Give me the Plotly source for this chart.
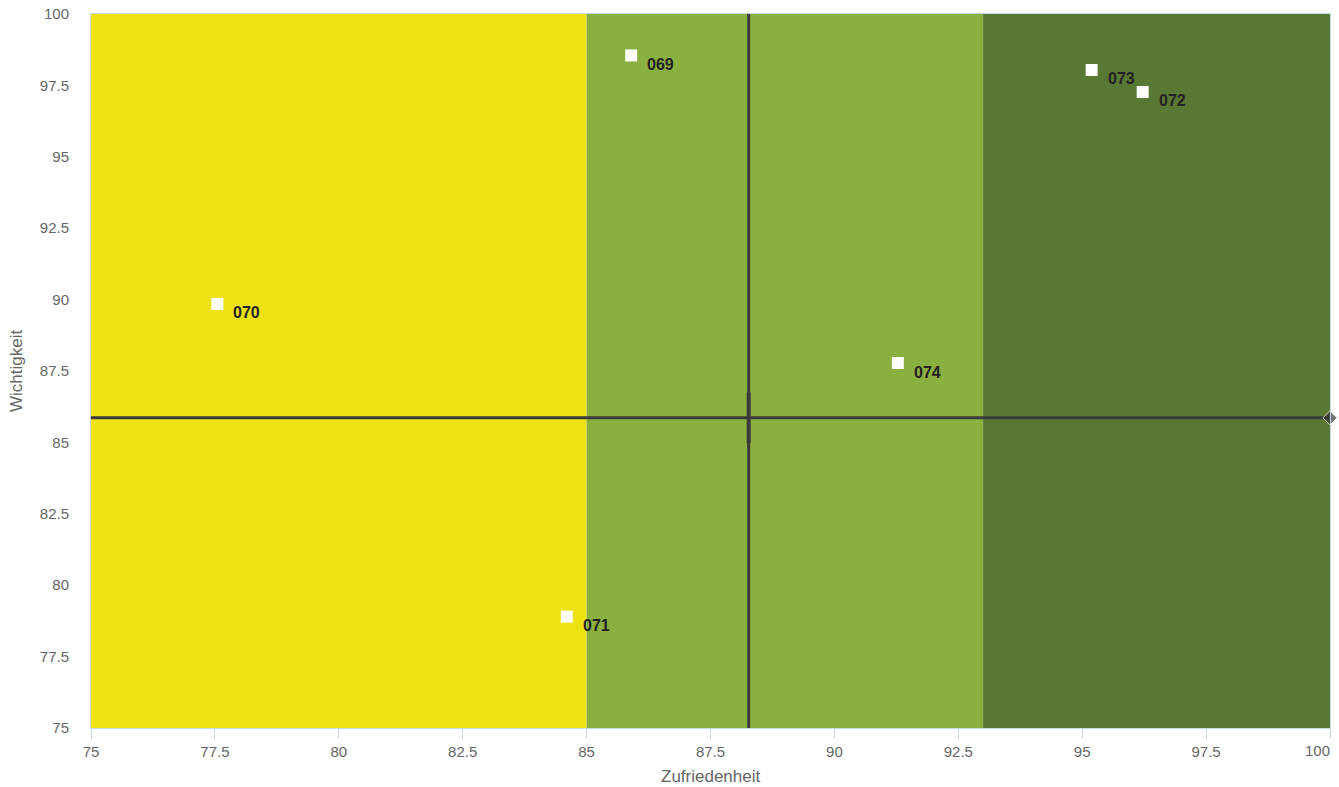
import plotly.graph_objects as go

# data
labels = ["069", "070", "071", "072", "073", "074"]
zufriedenheit = [85.9, 77.55, 84.6, 96.22, 95.19, 91.28]
wichtigkeit = [98.55, 89.85, 78.9, 97.27, 98.04, 87.78]

mean_x = 88.27
mean_y = 85.86

band_edges = [75, 85, 93, 100]
band_colors = ["#EEE212", "#8AB040", "#587834"]

tick_vals = [75, 77.5, 80, 82.5, 85, 87.5, 90, 92.5, 95, 97.5, 100]
tick_text = ["75", "77.5", "80", "82.5", "85", "87.5", "90", "92.5", "95", "97.5", "100"]

fig = go.Figure()

for i, col in enumerate(band_colors):
    fig.add_shape(
        type="rect", xref="x", yref="y", layer="below",
        x0=band_edges[i], x1=band_edges[i + 1], y0=75, y1=100,
        fillcolor=col, line_width=0,
    )

# mean lines
fig.add_trace(go.Scatter(
    x=[mean_x, mean_x], y=[75, 100], mode="lines",
    line=dict(color="#3a3a3a", width=3), hoverinfo="skip", showlegend=False,
))
fig.add_trace(go.Scatter(
    x=[mean_x], y=[mean_y], mode="markers",
    marker=dict(symbol="line-ns", size=36, line=dict(color="#3a3a3a", width=4)),
    hoverinfo="skip", showlegend=False,
))
fig.add_trace(go.Scatter(
    x=[75, 100], y=[mean_y, mean_y], mode="lines+markers", cliponaxis=False,
    line=dict(color="#3a3a3a", width=3),
    marker=dict(symbol=["circle", "diamond"], size=[0, 11], color="#3a3a3a"),
    hoverinfo="skip", showlegend=False,
))

fig.add_trace(go.Scatter(
    x=zufriedenheit, y=wichtigkeit, mode="markers",
    marker=dict(symbol="square", size=12, color="white"),
    showlegend=False,
))
for lx, ly, lt in zip(zufriedenheit, wichtigkeit, labels):
    fig.add_annotation(
        x=lx, y=ly, text=lt, showarrow=False, xanchor="left", yanchor="middle",
        xshift=14, yshift=-9,
        font=dict(family="Liberation Sans, Arial", size=16, color="#222222", weight="bold"),
    )

# axis titles
fig.add_annotation(
    text="Zufriedenheit", xref="paper", yref="paper", x=0.5, y=0,
    yshift=-48, showarrow=False, xanchor="center", yanchor="middle",
    font=dict(family="Liberation Sans, Arial", size=17, color="#666666"),
)
fig.add_annotation(
    text="Wichtigkeit", xref="paper", yref="paper", x=0, y=0.5,
    xshift=-75, textangle=-90, showarrow=False, xanchor="center", yanchor="middle",
    font=dict(family="Liberation Sans, Arial", size=17, color="#666666"),
)
# last x tick label, pulled inside the page like the original
fig.add_annotation(
    text=tick_text[-1], xref="x", yref="paper", x=tick_vals[-1], y=0,
    xshift=2, yshift=-22, showarrow=False, xanchor="right", yanchor="middle",
    font=dict(family="Liberation Sans, Arial", size=15, color="#666666"),
)

axis_common = dict(
    showgrid=False, zeroline=False, showline=True, linecolor="#c8d6e5", linewidth=1,
    tickfont=dict(family="Liberation Sans, Arial", size=15, color="#666666"),
    mirror=True, automargin=False, ticklabeloverflow="allow",
    tickmode="array", tickvals=tick_vals,
)
fig.update_xaxes(
    range=[75, 100], ticktext=tick_text[:-1] + [""],
    ticks="outside", ticklen=10, tickcolor="#c8d6e5",
    **axis_common,
)
fig.update_yaxes(
    range=[75, 100], ticktext=tick_text, ticks="", ticklabelstandoff=18,
    **axis_common,
)

fig.update_layout(
    width=1339, height=787,
    margin=dict(l=91, r=9, t=14, b=59),
    plot_bgcolor="white", paper_bgcolor="white",
    font=dict(family="Liberation Sans, Arial"),
)

fig.write_html(
    "out.html",
    config={"displayModeBar": False},
    post_script="document.body.style.margin = '0';",
)
